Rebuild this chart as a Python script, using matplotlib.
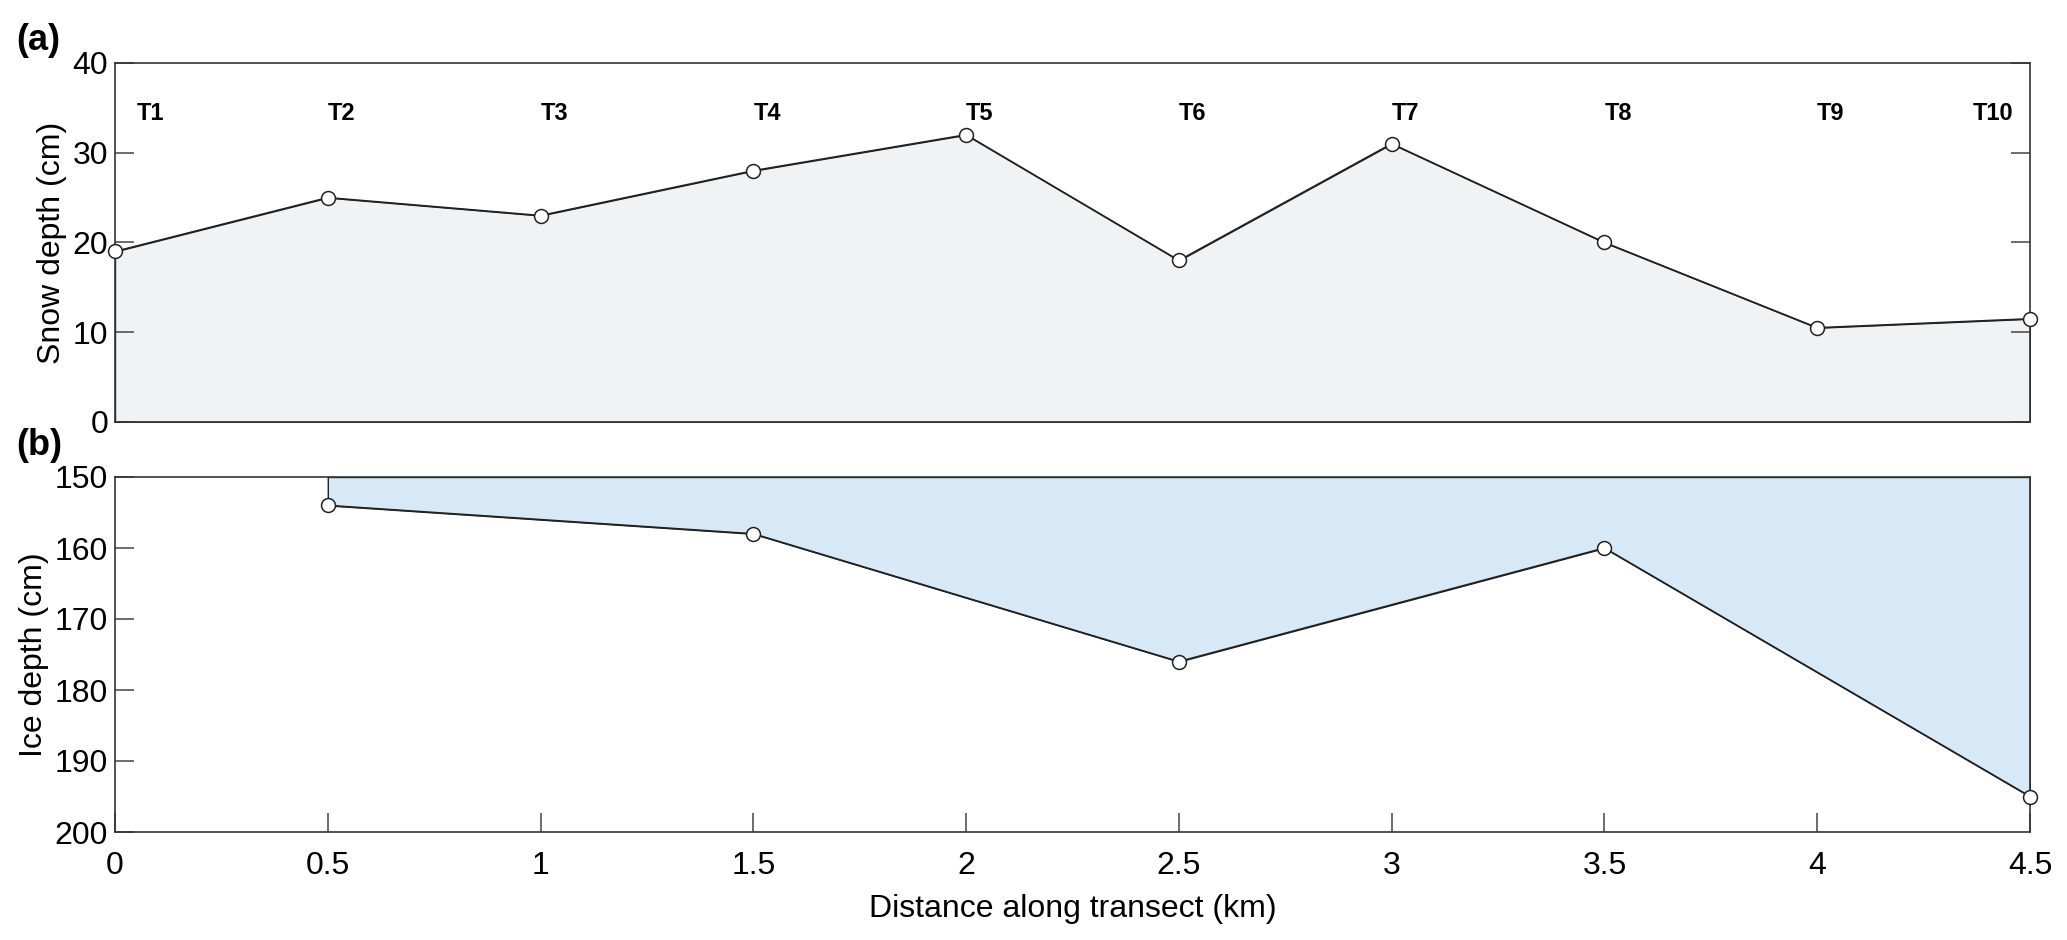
import matplotlib
matplotlib.use("Agg")
import matplotlib.pyplot as plt
import numpy as np

plt.rcParams['font.family'] = ['Liberation Sans', 'DejaVu Sans']

# snow depth at each station (km, cm)
snow_x = [0, 0.5, 1, 1.5, 2, 2.5, 3, 3.5, 4, 4.5]
snow_depth = [19, 25, 23, 28, 32, 18, 31, 20, 10.5, 11.5]
station_names = ["T1", "T2", "T3", "T4", "T5", "T6", "T7", "T8", "T9", "T10"]

# ice depth at every second station
ice_x = [0.5, 1.5, 2.5, 3.5, 4.5]
ice_depth = [154, 158, 176, 160, 195]

x_ticks = [0, 0.5, 1, 1.5, 2, 2.5, 3, 3.5, 4, 4.5]
x_ticklabels = ["0", "0.5", "1", "1.5", "2", "2.5", "3", "3.5", "4", "4.5"]

W, H = 2067, 940
fig = plt.figure(figsize=(W / 100, H / 100), dpi=100)
left, right = 115 / W, 2030 / W
ax1 = fig.add_axes([left, 1 - 422 / H, right - left, (422 - 63) / H])
ax2 = fig.add_axes([left, 1 - 832 / H, right - left, (832 - 477) / H])

spine_col = "#333333"
for ax in (ax1, ax2):
    for s in ax.spines.values():
        s.set_color(spine_col)
        s.set_linewidth(1.2)
    ax.tick_params(direction="in", length=14, width=1.1, color="#444444",
                   labelsize=23)
    ax.tick_params(axis="y", pad=5)
    ax.tick_params(axis="x", pad=14)

# (a) snow
ax1.fill_between(snow_x, snow_depth, 0, facecolor="#f1f2f4",
                 edgecolor="#222222", linewidth=1.0, zorder=1)
ax1.plot(snow_x, snow_depth, color="#222222", lw=1.2, marker="o", ms=10,
         mfc="white", mec="#222222", mew=1.1, zorder=3, clip_on=False)
ax1.set_xlim(0, 4.5)
ax1.set_ylim(0, 40)
ax1.set_yticks([0, 10, 20, 30, 40])
ax1.set_xticks([])
ax1.tick_params(axis="y", right=True)
ax1.set_ylabel("Snow depth (cm)", fontsize=23, labelpad=4)
for i, (xv, name) in enumerate(zip(snow_x, station_names)):
    if i == 0:
        ax1.text(xv + 0.05, 34.4, name, ha="left", va="center",
                 fontsize=17, fontweight="bold")
    elif i == len(snow_x) - 1:
        ax1.text(xv - 0.04, 34.4, name, ha="right", va="center",
                 fontsize=17, fontweight="bold")
    else:
        ax1.text(xv, 34.4, name, ha="left", va="center",
                 fontsize=17, fontweight="bold")

# (b) ice
ax2.fill_between(ice_x, ice_depth, 150, facecolor="#d7e9f6",
                 edgecolor="#222222", linewidth=1.0, zorder=1)
ax2.plot(ice_x, ice_depth, color="#222222", lw=1.2, marker="o", ms=10,
         mfc="white", mec="#222222", mew=1.1, zorder=3, clip_on=False)
ax2.set_xlim(0, 4.5)
ax2.set_ylim(200, 150)
ax2.set_yticks([150, 160, 170, 180, 190, 200])
ax2.set_xticks(x_ticks)
ax2.set_xticklabels(x_ticklabels)
ax2.set_ylabel("Ice depth (cm)", fontsize=23, labelpad=4)
ax2.set_xlabel("Distance along transect (km)", fontsize=23, labelpad=9)

fig.text(16 / W, 1 - 40 / H, "(a)", fontsize=26, fontweight="bold",
         ha="left", va="center")
fig.text(16 / W, 1 - 446 / H, "(b)", fontsize=26, fontweight="bold",
         ha="left", va="center")

fig.savefig("out.png", dpi=100)
